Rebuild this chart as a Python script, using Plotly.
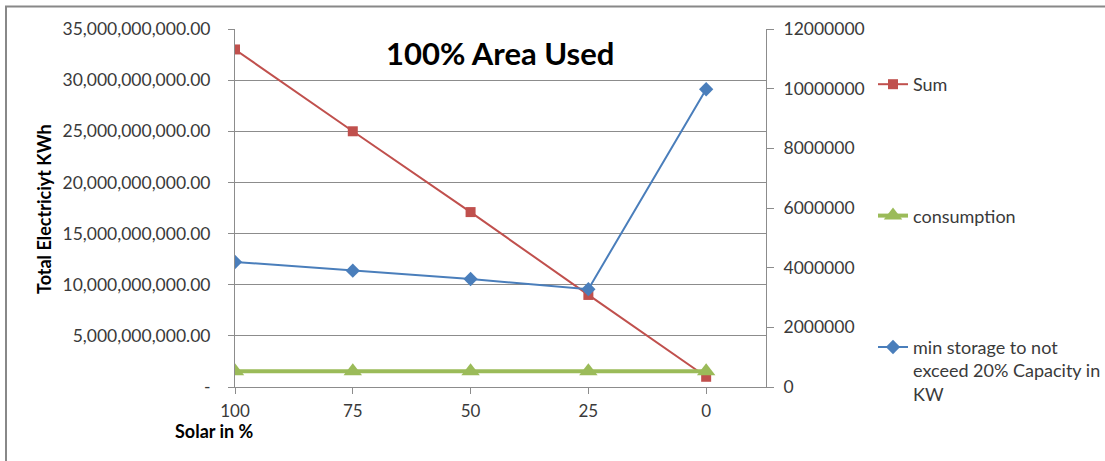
import plotly.graph_objects as go

# Share of solar in the supply mix (%)
solar_pct = [100, 75, 50, 25, 0]

# Total electricity (kWh) - left axis
sum_kwh = [33.0e9, 25.0e9, 17.1e9, 9.0e9, 1.0e9]
consumption_kwh = [1.55e9, 1.55e9, 1.55e9, 1.55e9, 1.55e9]

# Minimum storage (kW) - right axis
min_storage_kw = [4.19e6, 3.90e6, 3.62e6, 3.28e6, 9.98e6]

left_tickvals = [0, 5e9, 10e9, 15e9, 20e9, 25e9, 30e9, 35e9]
left_ticktext = ["-", "5,000,000,000.00", "10,000,000,000.00", "15,000,000,000.00",
                 "20,000,000,000.00", "25,000,000,000.00", "30,000,000,000.00",
                 "35,000,000,000.00"]
x_tickvals = [100, 75, 50, 25, 0]

FONT = "Lato"
TXT = "#3a3a3a"

W, H = 1105, 461
L, R, T, B = 235, 766, 29, 387  # plot area in pixels


def px(x):
    return (x - L) / (R - L)


def py(y):
    return (B - y) / (B - T)


fig = go.Figure()

fig.add_trace(go.Scatter(
    x=solar_pct, y=sum_kwh, name="Sum", mode="lines+markers",
    line=dict(color="#C0504D", width=2),
    marker=dict(symbol="square", size=10, color="#C0504D"),
    legendgroup="a",
))
fig.add_trace(go.Scatter(
    x=solar_pct, y=consumption_kwh, name="consumption", mode="lines+markers",
    line=dict(color="#9BBB59", width=4),
    marker=dict(symbol="triangle-up", size=16, color="#9BBB59"),
    legendgroup="b",
))
fig.add_trace(go.Scatter(
    x=solar_pct, y=min_storage_kw, name="min storage to not<br>exceed 20% Capacity in<br>KW",
    mode="lines+markers", yaxis="y2",
    line=dict(color="#4A7EBB", width=2),
    marker=dict(symbol="diamond", size=11, color="#4A7EBB"),
    legendgroup="c",
))

fig.update_layout(
    width=W, height=H,
    margin=dict(l=L, r=W - R, t=T, b=H - B, autoexpand=False),
    paper_bgcolor="white", plot_bgcolor="white",
    font=dict(family=FONT, size=15, color=TXT),
    xaxis=dict(
        range=[100, -12.7], tickvals=x_tickvals, ticktext=[str(v) for v in x_tickvals],
        showgrid=False, zeroline=False, showline=True, linecolor="#8c8c8c", linewidth=1,
        ticks="outside", ticklen=6, tickcolor="#8c8c8c", ticklabelstandoff=3,
        tickfont=dict(family=FONT, size=17, color=TXT), automargin=False,
    ),
    yaxis=dict(
        range=[0, 35e9], tickvals=left_tickvals, ticktext=left_ticktext,
        showgrid=True, gridcolor="#8c8c8c", gridwidth=1, zeroline=False,
        showline=True, linecolor="#8c8c8c", linewidth=1,
        ticks="outside", ticklen=6, tickcolor="#8c8c8c", ticklabelstandoff=14,
        tickfont=dict(family=FONT, size=17.5, color=TXT), automargin=False,
    ),
    yaxis2=dict(
        range=[0, 12e6], dtick=2e6, tickformat="d", overlaying="y", side="right",
        showgrid=False, zeroline=False, showline=True, linecolor="#8c8c8c", linewidth=1,
        ticks="outside", ticklen=7, tickcolor="#8c8c8c", ticklabelstandoff=6,
        tickfont=dict(family=FONT, size=17.5, color=TXT), automargin=False,
    ),
    legend=dict(
        xref="container", x=873 / W, y=py(66), xanchor="left", yanchor="top",
        font=dict(family=FONT, size=18, color=TXT),
        tracegroupgap=105, valign="top", itemwidth=30,
        bgcolor="rgba(0,0,0,0)",
    ),
    showlegend=True,
)

fig.add_annotation(
    text="<b>100% Area Used</b>", xref="paper", yref="paper",
    x=px(500), y=py(53), xanchor="center", yanchor="middle", showarrow=False,
    font=dict(family=FONT, size=31, color="#000000"),
)
fig.add_annotation(
    text="<b>Total Electriciyt KWh</b>", xref="paper", yref="paper",
    x=px(44), y=py(209), xanchor="center", yanchor="middle", showarrow=False,
    textangle=-90,
    font=dict(family=FONT, size=18, color="#000000"),
)
fig.add_annotation(
    text="<b>Solar in %</b>", xref="paper", yref="paper",
    x=px(214), y=py(431), xanchor="center", yanchor="middle", showarrow=False,
    font=dict(family=FONT, size=18, color="#000000"),
)

# outer chart frame
fig.add_shape(
    type="rect", xref="paper", yref="paper",
    x0=px(6), x1=px(1112), y0=py(470), y1=py(6.5),
    line=dict(color="#888888", width=2), fillcolor="rgba(0,0,0,0)", layer="below",
)

fig.write_html("out.html")
